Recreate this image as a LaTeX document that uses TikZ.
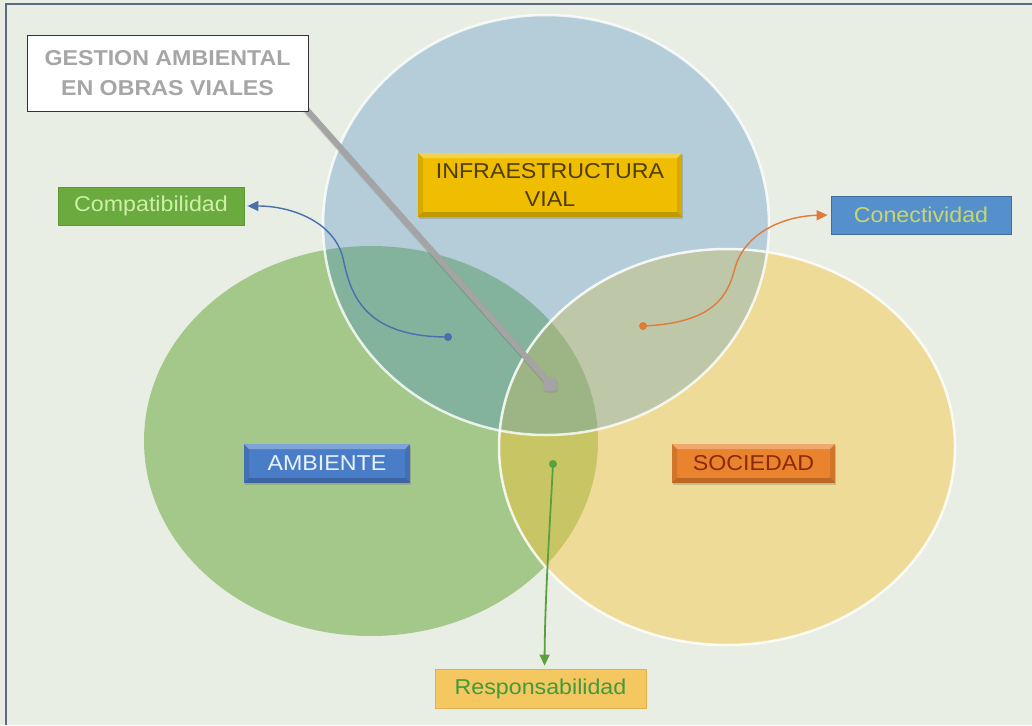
\documentclass[tikz,border=0pt]{standalone}
\usepackage{fontspec}
\setmainfont[FakeStretch=1.08]{Liberation Sans}
\usetikzlibrary{shadows,arrows.meta}
\definecolor{bg}{HTML}{E9EEE4}
\definecolor{frame}{HTML}{5B6B80}
\definecolor{Gc}{HTML}{A3C88A}
\definecolor{Yc}{HTML}{EFDB98}
\definecolor{Bc}{HTML}{B5CDD8}
\definecolor{GBc}{HTML}{83B39D}
\definecolor{GYc}{HTML}{C8C664}
\definecolor{BYc}{HTML}{BEC8A9}
\definecolor{GBYc}{HTML}{9DB484}
\definecolor{infraF}{HTML}{F0BE00}
\definecolor{infraT}{HTML}{4E3D00}
\definecolor{compF}{HTML}{6BAA3E}
\definecolor{compD}{HTML}{5C9834}
\definecolor{compT}{HTML}{CBF0A6}
\definecolor{conF}{HTML}{5590CC}
\definecolor{conD}{HTML}{3F6E9E}
\definecolor{conT}{HTML}{C9D66C}
\definecolor{ambF}{HTML}{4A7DC8}
\definecolor{ambT}{HTML}{E8F2FF}
\definecolor{socF}{HTML}{E9832E}
\definecolor{socT}{HTML}{8C2A08}
\definecolor{resF}{HTML}{F5C760}
\definecolor{resD}{HTML}{E3AE4B}
\definecolor{resT}{HTML}{3F9B3B}
\definecolor{gesT}{HTML}{A6A6A6}
\definecolor{lineG}{HTML}{A4A4A4}
\definecolor{arrB}{HTML}{4A6FAE}
\definecolor{arrO}{HTML}{E07B39}
\definecolor{arrG}{HTML}{5AA040}
\tikzset{
  lbl/.style={inner sep=0pt, align=center, font=\fontsize{21.5}{28}\selectfont},
  flatbox/.style={lbl, draw, line width=0.8pt},
  bevel/.style={lbl, drop shadow={shadow xshift=1pt, shadow yshift=-2pt, opacity=.35},
    path picture={
      \fill[white,opacity=.3] (path picture bounding box.north west) -- (path picture bounding box.north east)
        -- ([shift={(-5pt,-5pt)}]path picture bounding box.north east) -- ([shift={(5pt,-5pt)}]path picture bounding box.north west) -- cycle;
      \fill[black,opacity=.2] (path picture bounding box.south west) -- (path picture bounding box.south east)
        -- ([shift={(-5pt,5pt)}]path picture bounding box.south east) -- ([shift={(5pt,5pt)}]path picture bounding box.south west) -- cycle;
      \fill[black,opacity=.1] (path picture bounding box.north west) -- (path picture bounding box.south west)
        -- ([shift={(5pt,5pt)}]path picture bounding box.south west) -- ([shift={(5pt,-5pt)}]path picture bounding box.north west) -- cycle;
      \fill[black,opacity=.1] (path picture bounding box.north east) -- (path picture bounding box.south east)
        -- ([shift={(-5pt,5pt)}]path picture bounding box.south east) -- ([shift={(-5pt,-5pt)}]path picture bounding box.north east) -- cycle;
    }},
  conn/.style={line width=1.4pt, -{Triangle[length=11pt,width=10pt]}, shorten >=3pt},
  dot/.style={circle, inner sep=0pt, minimum size=8pt}
}
\begin{document}
\begin{tikzpicture}[x=1pt,y=-1pt]
\fill[bg] (0,0) rectangle (1032,725);
\useasboundingbox (0,0) rectangle (1032,725);
\draw[frame, line width=1.6pt] (6,725) -- (6,4) -- (1032,4);

\def\Gell{(371,441) ellipse [x radius=227pt, y radius=195pt]}
\def\Yell{(727,447) ellipse [x radius=228pt, y radius=198pt]}
\def\Bell{(546,225) ellipse [x radius=223pt, y radius=210pt]}

% base fills
\fill[Gc] \Gell;
\fill[Yc] \Yell;
\fill[Bc] \Bell;
% overlaps
\begin{scope} \clip \Gell; \fill[GYc] \Yell; \end{scope}
\begin{scope} \clip \Gell; \fill[GBc] \Bell; \end{scope}
\begin{scope} \clip \Bell; \fill[BYc] \Yell; \end{scope}
\begin{scope} \clip \Gell; \clip \Bell; \fill[GBYc] \Yell; \end{scope}
% outlines
\draw[white, line width=2.5pt, opacity=.85] \Yell;
\draw[white, line width=2.5pt, opacity=.8] \Bell;

% gray leader line
\coordinate (gl) at (298,100);
\node[fill=lineG, rounded corners=2pt, minimum size=13pt, inner sep=0pt,
      drop shadow={shadow xshift=1pt, shadow yshift=-2pt, opacity=.3}] (sq) at (550,384) {};
\draw[black, opacity=.12, line width=7pt] ([shift={(1pt,-2pt)}]gl) -- ([shift={(1pt,-2pt)}]sq.center);
\draw[lineG, line width=6pt] (gl) -- (sq.center);
\node[fill=lineG, rounded corners=2pt, minimum size=13pt, inner sep=0pt] at (sq) {};

% boxes
\node[flatbox, draw=black!80, fill=white, text=gesT, minimum width=281pt, minimum height=76pt,
      font=\fontsize{21.5}{30}\selectfont\bfseries] (gestion) at (167.5,73) {GESTION AMBIENTAL\\EN OBRAS VIALES};
\node[bevel, fill=infraF, text=infraT, minimum width=264pt, minimum height=64pt] (infra) at (550,185) {INFRAESTRUCTURA\\VIAL};
\node[flatbox, draw=compD, fill=compF, text=compT, minimum width=186pt, minimum height=38pt] (compat) at (151,206) {Compatibilidad};
\node[flatbox, draw=conD, fill=conF, text=conT, minimum width=180pt, minimum height=38pt] (conect) at (921,215) {Conectividad};
\node[bevel, fill=ambF, text=ambT, minimum width=166pt, minimum height=39pt] (amb) at (327,463.5) {AMBIENTE};
\node[bevel, fill=socF, text=socT, minimum width=163pt, minimum height=39pt] (soc) at (753.5,463.5) {SOCIEDAD};
\node[flatbox, draw=resD, fill=resF, text=resT, minimum width=211pt, minimum height=39pt] (resp) at (540.5,688.5) {Responsabilidad};

% connectors
\node[dot, fill=arrB] (bdot) at (448,337) {};
\draw[conn, arrB] (bdot.center) .. controls (362,337) and (350,292) .. (343,258)
   .. controls (334,222) and (292,206) .. (compat.east);
\node[dot, fill=arrO] (odot) at (643,326) {};
\draw[conn, arrO] (odot.center) .. controls (715,323) and (728,295) .. (735,268)
   .. controls (745,232) and (785,216) .. (conect.west);
\node[dot, fill=arrG] (gdot) at (553,464) {};
\draw[conn, arrG, line width=1.8pt] (gdot.center) .. controls (549,540) and (545,600) .. ([xshift=4pt]resp.north);
\end{tikzpicture}
\end{document}
